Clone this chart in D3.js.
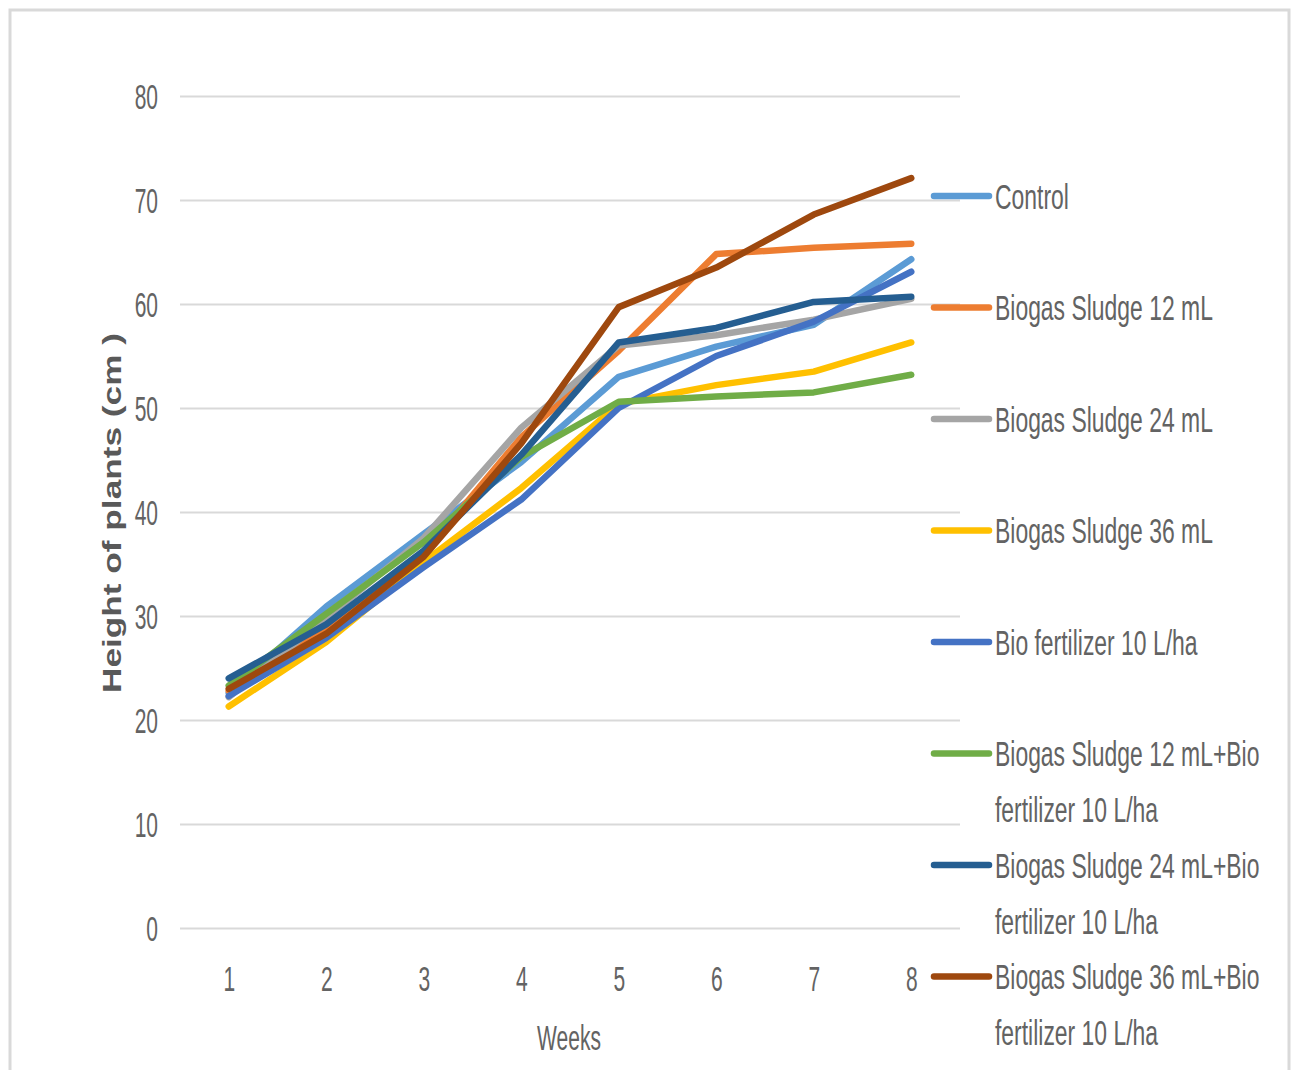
<!DOCTYPE html>
<html>
<head>
<meta charset="utf-8">
<script src="https://cdn.jsdelivr.net/npm/d3@7"></script>
<style>
  html, body { margin: 0; padding: 0; background: #fff; }
  svg { display: block; }
  text { font-family: "Liberation Sans", Arial, sans-serif; fill: #595959; }
</style>
</head>
<body>
<svg id="chart" width="1296" height="1070"></svg>
<script>
const weeks = [1, 2, 3, 4, 5, 6, 7, 8];
const yTicks = [0, 10, 20, 30, 40, 50, 60, 70, 80];

const seriesNames = [
  "Control",
  "Biogas Sludge 12 mL",
  "Biogas Sludge 24 mL",
  "Biogas Sludge 36 mL",
  "Bio fertilizer 10 L/ha",
  "Biogas Sludge 12 mL+Bio fertilizer 10 L/ha",
  "Biogas Sludge 24 mL+Bio fertilizer 10 L/ha",
  "Biogas Sludge 36 mL+Bio fertilizer 10 L/ha"
];
const legendLines = [
  ["Control"],
  ["Biogas Sludge 12 mL"],
  ["Biogas Sludge 24 mL"],
  ["Biogas Sludge 36 mL"],
  ["Bio fertilizer 10 L/ha"],
  ["Biogas Sludge 12 mL+Bio", "fertilizer 10 L/ha"],
  ["Biogas Sludge 24 mL+Bio", "fertilizer 10 L/ha"],
  ["Biogas Sludge 36 mL+Bio", "fertilizer 10 L/ha"]
];
const colors = ["#5B9BD5", "#ED7D31", "#A5A5A5", "#FFC000", "#4472C4", "#70AD47", "#255E91", "#9E480E"];

const control    = [22.6, 30.9, 37.9, 44.8, 53.0, 55.9, 58.0, 64.3];
const bs12       = [22.8, 28.8, 36.0, 47.2, 55.5, 64.8, 65.4, 65.8];
const bs24       = [22.2, 29.8, 37.5, 48.1, 56.0, 57.0, 58.5, 60.5];
const bs36       = [21.3, 27.5, 35.2, 42.3, 50.4, 52.2, 53.5, 56.3];
const bio        = [22.3, 27.9, 34.7, 41.2, 50.0, 55.0, 58.3, 63.1];
const bs12bio    = [23.3, 30.2, 37.1, 45.3, 50.6, 51.1, 51.5, 53.2];
const bs24bio    = [24.0, 29.2, 36.3, 45.5, 56.3, 57.7, 60.2, 60.7];
const bs36bio    = [23.0, 28.3, 35.7, 46.6, 59.7, 63.5, 68.6, 72.1];
const allSeries = [control, bs12, bs24, bs36, bio, bs12bio, bs24bio, bs36bio];

const svg = d3.select("#chart");
svg.append("rect").attr("x", 0).attr("y", 0).attr("width", 1296).attr("height", 1070).attr("fill", "#fff");
svg.append("rect").attr("x", 10).attr("y", 10).attr("width", 1279).attr("height", 1075)
  .attr("fill", "none").attr("stroke", "#d9d9d9").attr("stroke-width", 3);

const plotL = 180, plotR = 960, plotT = 96, plotB = 928;
const x = d3.scalePoint().domain(weeks).range([plotL, plotR]).padding(0.5);
const y = d3.scaleLinear().domain([0, 80]).range([plotB, plotT]);

const SX = 0.6;

// Y axis + gridlines
const yAxis = svg.append("g").attr("transform", `translate(${plotL},0)`)
  .call(d3.axisLeft(y).tickValues(yTicks).tickSize(-(plotR - plotL)).tickPadding(0));
yAxis.select(".domain").remove();
yAxis.selectAll(".tick line").attr("stroke", "#d9d9d9").attr("stroke-width", 2);
yAxis.selectAll(".tick text")
  .attr("x", -22 / SX).attr("dy", "0.36em")
  .attr("transform", `scale(${SX},1)`)
  .attr("text-anchor", "end")
  .style("font-size", "35px").style("fill", "#636363").style("font-family", "Liberation Sans, Arial, sans-serif");

// X axis
const xAxis = svg.append("g").attr("transform", `translate(0,${plotB})`)
  .call(d3.axisBottom(x).tickSize(0).tickPadding(0));
xAxis.select(".domain").remove();
xAxis.selectAll(".tick text")
  .attr("y", 50).attr("dy", "0.36em")
  .attr("transform", `scale(${SX},1)`)
  .style("font-size", "35px").style("fill", "#636363").style("font-family", "Liberation Sans, Arial, sans-serif");

// Axis titles
svg.append("text")
  .attr("transform", `translate(569,1037) scale(${SX},1)`)
  .attr("text-anchor", "middle").attr("dy", "0.36em")
  .style("font-size", "35px").style("fill", "#636363")
  .text("Weeks");

svg.append("text")
  .attr("transform", "translate(112,513) rotate(-90)")
  .attr("text-anchor", "middle").attr("dy", "0.36em")
  .attr("textLength", 360).attr("lengthAdjust", "spacingAndGlyphs")
  .style("font-size", "26px").style("font-weight", "bold")
  .text("Height of plants (cm )");

// Lines
const line = d3.line().x((d, i) => x(weeks[i])).y(d => y(d));
svg.append("g").selectAll("path").data(allSeries).join("path")
  .attr("d", d => line(d))
  .attr("fill", "none")
  .attr("stroke", (d, i) => colors[i])
  .attr("stroke-width", 6.5)
  .attr("stroke-linecap", "round")
  .attr("stroke-linejoin", "round");

// Legend
const legY0 = 196, legStep = 111.5, LSX = 0.655;
const leg = svg.append("g");
legendLines.forEach((lines, i) => {
  const ly = legY0 + i * legStep;
  leg.append("line").attr("x1", 934).attr("x2", 989).attr("y1", ly).attr("y2", ly)
    .attr("stroke", colors[i]).attr("stroke-width", 6.5).attr("stroke-linecap", "round");
  lines.forEach((t, j) => {
    leg.append("text")
      .attr("transform", `translate(995,${ly + j * 56}) scale(${LSX},1)`)
      .attr("dy", "0.36em")
      .style("font-size", "35px").style("fill", "#636363")
      .text(t);
  });
});
</script>
</body>
</html>
